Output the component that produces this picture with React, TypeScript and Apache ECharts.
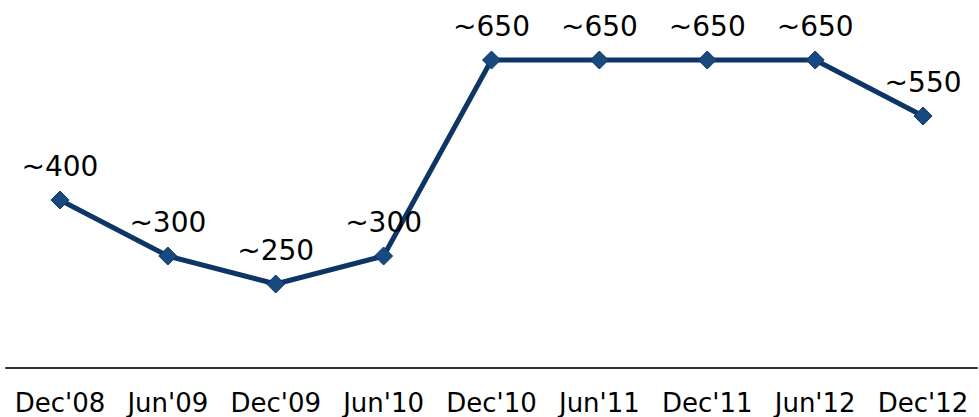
import React, { useEffect, useRef } from "react";
import * as echarts from "echarts";

const categories = ["Dec'08", "Jun'09", "Dec'09", "Jun'10", "Dec'10", "Jun'11", "Dec'11", "Jun'12", "Dec'12"];
const values = [400, 300, 250, 300, 650, 650, 650, 650, 550];
const labels = ["~400", "~300", "~250", "~300", "~650", "~650", "~650", "~650", "~550"];

export default function App() {
  const ref = useRef<HTMLDivElement>(null);
  useEffect(() => {
    const chart = echarts.init(ref.current!, null, { renderer: "svg" });
    chart.setOption({
      animation: false,
      backgroundColor: "#ffffff",
      grid: { left: 6, right: 2, top: 4, bottom: 49, containLabel: false },
      xAxis: {
        type: "category",
        data: categories,
        boundaryGap: true,
        axisLine: { show: true, lineStyle: { color: "#333333", width: 2 } },
        axisTick: { show: false },
        axisLabel: {
          color: "#000000",
          fontFamily: "DejaVu Sans",
          fontSize: 26,
          margin: 22,
          interval: 0,
        },
      },
      yAxis: {
        type: "value",
        min: 100,
        max: 750,
        show: false,
        splitLine: { show: false },
      },
      series: [
        {
          type: "line",
          data: values,
          symbol: "diamond",
          symbolSize: 18,
          lineStyle: { color: "#0d3667", width: 5 },
          itemStyle: { color: "#184a80", borderColor: "#0f3566", borderWidth: 1 },
          label: {
            show: true,
            position: "top",
            distance: 10,
            color: "#000000",
            fontFamily: "DejaVu Sans",
            fontSize: 28,
            formatter: (p: any) => labels[p.dataIndex],
          },
        },
      ],
    });
    return () => chart.dispose();
  }, []);
  return <div ref={ref} style={{ width: 979, height: 417, position: "absolute", left: 0, top: 0 }} />;
}
